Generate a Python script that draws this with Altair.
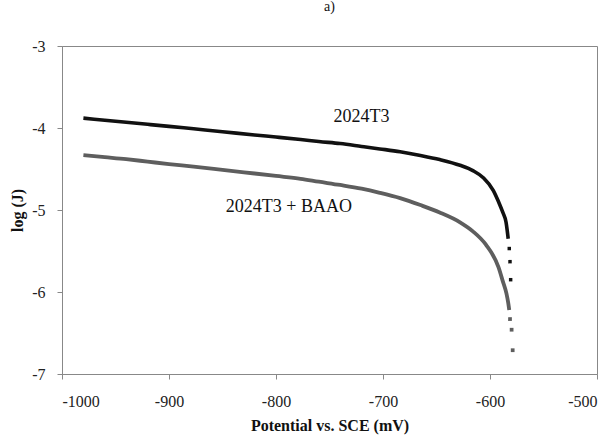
import altair as alt
import pandas as pd

# 2024T3 (black) - dense part and sparse tail
t3_x = [-980, -960, -940, -920, -900, -877, -850, -820, -800, -777, -760, -740, -720, -703,
        -684, -665, -647, -628, -616, -606, -597, -592, -588, -585, -584, -583]
t3_y = [-3.88, -3.905, -3.93, -3.955, -3.98, -4.01, -4.045, -4.085, -4.11, -4.14, -4.165, -4.19, -4.225, -4.255,
        -4.29, -4.335, -4.385, -4.455, -4.52, -4.61, -4.76, -4.90, -5.03, -5.15, -5.24, -5.35]
t3_tail_x = [-582, -581.3, -580.7]
t3_tail_y = [-5.47, -5.63, -5.85]

# 2024T3 + BAAO (gray)
b_x = [-980, -960, -940, -920, -900, -877, -850, -820, -800, -777, -760, -740, -720, -703,
       -684, -665, -647, -628, -616, -604, -592, -588, -584.6, -583, -582]
b_y = [-4.33, -4.355, -4.38, -4.41, -4.44, -4.47, -4.51, -4.555, -4.585, -4.62, -4.655, -4.695, -4.74, -4.79,
       -4.855, -4.94, -5.03, -5.15, -5.26, -5.42, -5.70, -5.87, -6.02, -6.13, -6.22]
b_tail_x = [-581.3, -579.8, -578.8]
b_tail_y = [-6.33, -6.46, -6.71]

labels_text = ["2024T3", "2024T3 + BAAO"]
labels_x = [-720, -788]
labels_y = [-3.86, -4.96]

x_ticks = [-1000, -900, -800, -700, -600, -500]
y_ticks = [-7, -6, -5, -4, -3]

FONT = "Liberation Serif"
BLACK = "#111111"
GRAY = "#5e5e5e"

t3 = pd.DataFrame({"x": t3_x, "y": t3_y})
t3t = pd.DataFrame({"x": t3_tail_x, "y": t3_tail_y})
bb = pd.DataFrame({"x": b_x, "y": b_y})
bbt = pd.DataFrame({"x": b_tail_x, "y": b_tail_y})
lab = pd.DataFrame({"t": labels_text, "x": labels_x, "y": labels_y})

xs = alt.Scale(domain=[-1000, -500], nice=False, zero=False)
ys = alt.Scale(domain=[-7, -3], nice=False, zero=False)

LBL = "'' + datum.value"

xenc = alt.X("x:Q", scale=xs, axis=alt.Axis(
    title="Potential vs. SCE (mV)", values=x_ticks, grid=False, labelExpr=LBL,
    labelFont=FONT, labelFontSize=16, labelColor="#222", labelPadding=14,
    titleFont=FONT, titleFontSize=16, titleFontWeight="bold", titleColor="#111", titlePadding=8,
    domainColor="#888", tickColor="#888", tickSize=5))
yenc = alt.Y("y:Q", scale=ys, axis=alt.Axis(
    title="log (J)", values=y_ticks, grid=False, labelExpr=LBL,
    labelFont=FONT, labelFontSize=16, labelColor="#222", labelPadding=12,
    titleFont=FONT, titleFontSize=16, titleFontWeight="bold", titleColor="#111", titlePadding=6,
    domainColor="#888", tickColor="#888", tickSize=5))

l1 = alt.Chart(t3).mark_line(color=BLACK, strokeWidth=3.6, interpolate="monotone").encode(x=xenc, y=yenc)
p1 = alt.Chart(t3t).mark_square(color=BLACK, size=12, opacity=1).encode(x="x:Q", y="y:Q")
l2 = alt.Chart(bb).mark_line(color=GRAY, strokeWidth=3.8, interpolate="monotone").encode(x="x:Q", y="y:Q")
p2 = alt.Chart(bbt).mark_square(color=GRAY, size=14, opacity=1).encode(x="x:Q", y="y:Q")
txt = alt.Chart(lab).mark_text(font=FONT, fontSize=18, color="#111").encode(
    x="x:Q", y="y:Q", text="t:N")

chart = alt.layer(l2, p2, l1, p1, txt).properties(
    width=535, height=328,
    title=alt.TitleParams("a)", font=FONT, fontSize=14, fontWeight="normal", color="#111",
                          anchor="middle", offset=24),
    autosize=alt.AutoSizeParams(type="none"),
    padding={"left": 62, "top": 46, "right": 17, "bottom": 71},
).configure_view(stroke="#888", strokeWidth=1)

chart.save("out.html", embed_options={"renderer": "svg", "actions": False})
